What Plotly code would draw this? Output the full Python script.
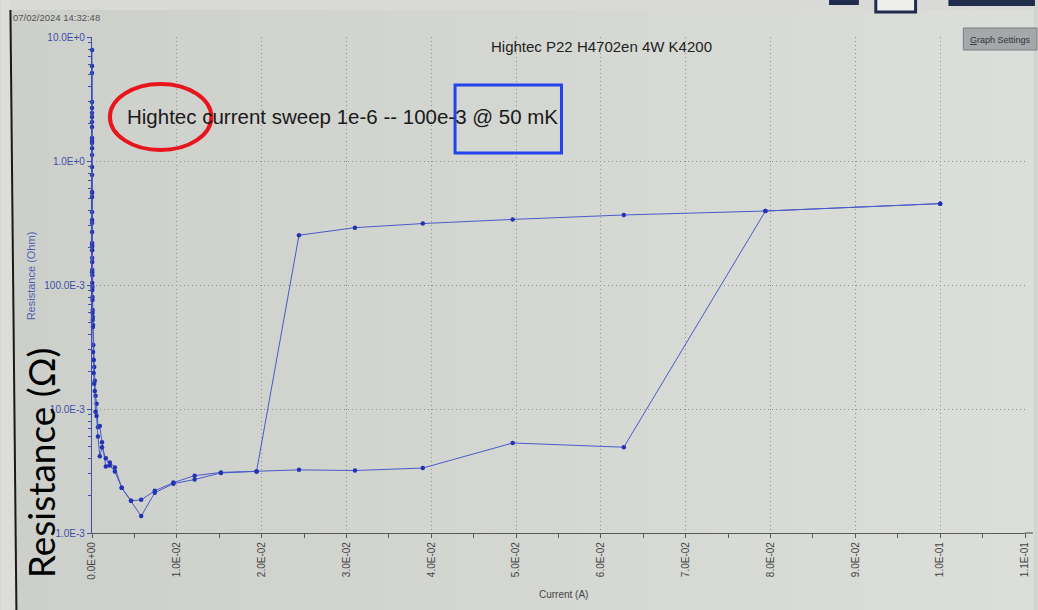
import plotly.graph_objects as go

# Four-wire resistance vs. source current (Keithley 4200), up and down sweeps
current_a = [
    1.0e-6, 1.26e-6, 1.58e-6, 2.0e-6, 2.5e-6, 3.2e-6, 4.0e-6, 5.0e-6, 6.3e-6, 7.9e-6,
    1.0e-5, 1.26e-5, 1.58e-5, 2.0e-5, 2.5e-5, 3.2e-5, 4.0e-5, 5.0e-5, 6.3e-5, 7.9e-5,
    1.0e-4, 1.26e-4, 1.58e-4, 2.0e-4, 2.6e-4, 3.3e-4, 4.2e-4, 5.4e-4, 7.0e-4, 9.2e-4,
    1.18e-3, 1.63e-3, 2.1e-3, 2.7e-3, 3.5e-3, 4.6e-3, 5.8e-3, 7.4e-3, 9.6e-3, 1.21e-2,
    1.52e-2, 1.94e-2, 2.44e-2, 3.10e-2, 3.90e-2, 4.96e-2, 6.27e-2, 7.94e-2, 1.000e-1,
]

resistance_up_ohm = [
    7.85, 5.12, 2.99, 2.44, 2.06, 1.53, 1.40, 1.12, 0.771, 0.552,
    0.388, 0.316, 0.218, 0.203, 0.165, 0.132, 0.120, 0.0964, 0.080, 0.0628,
    0.0552, 0.0476, 0.0328, 0.0248, 0.0218, 0.0169, 0.0128, 0.0110, 0.00714, 0.00728,
    0.00540, 0.00344, 0.00371, 0.00338, 0.00232, 0.00182, 0.00185, 0.00219, 0.00255, 0.00290,
    0.00308, 0.00314, 0.00323, 0.00319, 0.00334, 0.00532, 0.00492, 0.395, 0.453,
]

resistance_down_ohm = [
    5.84, 2.67, 2.26, 1.88, 1.45, 1.27, 0.895, 0.562, 0.513, 0.334,
    0.268, 0.210, 0.191, 0.153, 0.127, 0.104, 0.0912, 0.0757, 0.0594, 0.0522,
    0.0459, 0.0288, 0.0250, 0.0195, 0.0160, 0.0140, 0.0095, 0.00877, 0.0060, 0.00415,
    0.00491, 0.0040, 0.0035, 0.00313, 0.00232, 0.00182, 0.00137, 0.00211, 0.00250, 0.00270,
    0.00305, 0.00314, 0.252, 0.290, 0.313, 0.338, 0.367, 0.395, 0.453,
]

x_tick_vals = [0.0, 0.01, 0.02, 0.03, 0.04, 0.05, 0.06, 0.07, 0.08, 0.09, 0.10, 0.11]
x_tick_text = ["0.0E+00", "1.0E-02", "2.0E-02", "3.0E-02", "4.0E-02", "5.0E-02",
               "6.0E-02", "7.0E-02", "8.0E-02", "9.0E-02", "1.0E-01", "1.1E-01"]
y_tick_vals = [1e-3, 1e-2, 1e-1, 1.0, 10.0]
y_tick_text = ["1.0E-3", "10.0E-3", "100.0E-3", "1.0E+0", "10.0E+0"]

W, H = 1038, 610
L, R, T, B = 92, 8, 37, 77
PW, PH = W - L - R, H - T - B


def fx(px):
    return (px - L) / PW


def fy(py):
    return (H - B - py) / PH


LINE_BLUE = "#4a5ac8"
DOT_BLUE = "#2233b4"
AXIS_BLUE = "#4050a8"
GRID = "#8e8f8c"
FONT = "Liberation Sans, Arial, sans-serif"

fig = go.Figure()
for name, ys in (("Sweep up", resistance_up_ohm), ("Sweep down", resistance_down_ohm)):
    fig.add_trace(go.Scatter(
        x=current_a, y=ys, name=name, mode="lines+markers",
        line=dict(color=LINE_BLUE, width=1),
        marker=dict(color=DOT_BLUE, size=4.5, symbol="circle"),
        showlegend=False, cliponaxis=False,
    ))

minor_log = [m * 10 ** e for e in range(-3, 1) for m in range(2, 10)]

fig.update_xaxes(
    range=[0, 0.11], tickmode="array", tickvals=x_tick_vals, ticktext=x_tick_text,
    tickangle=-90, tickfont=dict(family=FONT, size=10, color="#454545"),
    showline=True, linecolor="#5a5a5a", linewidth=1.2,
    ticks="outside", ticklen=4, tickcolor="#5a5a5a",
    minor=dict(dtick=0.005, tick0=0, ticks="outside", ticklen=4, tickcolor="#5a5a5a", showgrid=False),
    showgrid=True, gridcolor=GRID, griddash="1px,3px", gridwidth=1, zeroline=False,
)
fig.update_yaxes(
    type="log", range=[-3, 1], tickmode="array", tickvals=y_tick_vals, ticktext=y_tick_text,
    tickfont=dict(family=FONT, size=10, color=AXIS_BLUE),
    showline=True, linecolor=AXIS_BLUE, linewidth=1.2,
    ticks="outside", ticklen=4, tickcolor=AXIS_BLUE,
    minor=dict(tickmode="array", tickvals=minor_log, ticks="outside", ticklen=3,
               tickcolor=AXIS_BLUE, showgrid=False),
    showgrid=True, gridcolor=GRID, griddash="1px,3px", gridwidth=1, zeroline=False,
)


def mix(c0, c1, t):
    a = [int(c0[i:i + 2], 16) for i in (1, 3, 5)]
    b = [int(c1[i:i + 2], 16) for i in (1, 3, 5)]
    return "#" + "".join(f"{round(p + (q - p) * t):02x}" for p, q in zip(a, b))


shapes = []
# photographed screen: soft left-to-right brightness gradient
n_bands = 48
band = W / n_bands
for i in range(n_bands):
    shapes.append(dict(type="rect", xref="paper", yref="paper", layer="below",
                       x0=fx(i * band), x1=fx((i + 1) * band + 1), y0=fy(H), y1=fy(0),
                       fillcolor=mix("#cdcfcb", "#dcdeda", i / (n_bands - 1)),
                       line=dict(width=0)))
# monitor bezel edge on the left and top strip
shapes.append(dict(type="path", xref="paper", yref="paper", layer="below",
                   path=f"M {fx(0)} {fy(0)} L {fx(10)} {fy(0)} L {fx(16)} {fy(H)} L {fx(0)} {fy(H)} Z",
                   fillcolor="#dcdcd9", line=dict(width=0)))
shapes.append(dict(type="rect", xref="paper", yref="paper", layer="below",
                   x0=fx(10), x1=fx(W), y0=fy(10), y1=fy(0),
                   fillcolor="#d9dad7", line=dict(width=0)))
shapes.append(dict(type="line", xref="paper", yref="paper",
                   x0=fx(10), y0=fy(10), x1=fx(16), y1=fy(H),
                   line=dict(color="#1a1a1a", width=2)))
# window controls along the top edge
shapes.append(dict(type="rect", xref="paper", yref="paper",
                   x0=fx(833), x1=fx(863), y0=fy(5), y1=fy(-2),
                   fillcolor="#1f2c4c", line=dict(width=0)))
shapes.append(dict(type="rect", xref="paper", yref="paper",
                   x0=fx(880), x1=fx(920), y0=fy(12), y1=fy(-4),
                   fillcolor="#eeeeec", line=dict(color="#1f2c4c", width=3)))
shapes.append(dict(type="rect", xref="paper", yref="paper",
                   x0=fx(953), x1=fx(W + 2), y0=fy(6), y1=fy(-2),
                   fillcolor="#1f2c4c", line=dict(width=0)))
# x axis line runs on to the window edge
shapes.append(dict(type="line", xref="paper", yref="paper",
                   x0=1, x1=fx(W), y0=0, y1=0, line=dict(color="#5a5a5a", width=1.2)))
# "Graph Settings" button
shapes.append(dict(type="rect", xref="paper", yref="paper",
                   x0=fx(968), x1=fx(W + 4), y0=fy(50), y1=fy(28),
                   fillcolor="#a4a8ab", line=dict(color="#7c8083", width=1)))
# highlight marks drawn over the chart
shapes.append(dict(type="circle", xref="paper", yref="paper",
                   x0=fx(110), x1=fx(212), y0=fy(150), y1=fy(84),
                   line=dict(color="#e8161c", width=4)))
shapes.append(dict(type="rect", xref="paper", yref="paper",
                   x0=fx(457), x1=fx(564), y0=fy(153), y1=fy(85),
                   line=dict(color="#2343ee", width=3)))

annotations = [
    dict(text="Hightec P22 H4702en 4W K4200", x=fx(604), y=fy(46),
         font=dict(family=FONT, size=15, color="#222222")),
    dict(text="07/02/2024 14:32:48", x=fx(56), y=fy(17),
         font=dict(family=FONT, size=9.5, color="#555555")),
    dict(text="<u>G</u>raph Settings", x=fx(973), y=fy(40), xanchor="left",
         font=dict(family=FONT, size=9, color="#333333")),
    dict(text="Resistance (Ohm)", x=fx(31), y=fy(276), textangle=-90,
         font=dict(family=FONT, size=11, color="#5060b4")),
    dict(text="Current (A)", x=fx(566), y=fy(594),
         font=dict(family=FONT, size=10, color="#444444")),
    dict(text="Hightec current sweep 1e-6 -- 100e-3 @ 50 mK", x=fx(344), y=fy(116),
         font=dict(family=FONT, size=20.5, color="#1a1a1a")),
    dict(text="Resistance (Ω)", x=fx(40), y=fy(463), textangle=-90,
         font=dict(family="Lato, Carlito, sans-serif", size=37, color="#000000")),
]
for a in annotations:
    a.update(xref="paper", yref="paper", showarrow=False)
    a.setdefault("xanchor", "center")
    a.setdefault("yanchor", "middle")

fig.update_layout(
    width=W, height=H, autosize=False,
    margin=dict(l=L, r=R, t=T, b=B, pad=0),
    paper_bgcolor="#d3d5d1", plot_bgcolor="rgba(0,0,0,0)",
    shapes=shapes, annotations=annotations, showlegend=False,
)

fig.write_html("out.html", config={"displayModeBar": False})
